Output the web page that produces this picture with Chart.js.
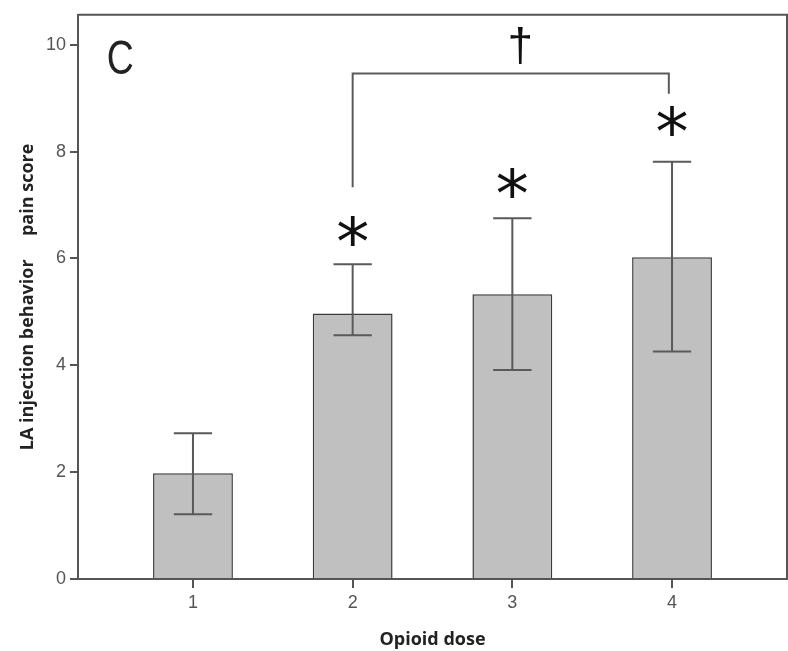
<!DOCTYPE html>
<html><head><meta charset="utf-8">
<script src="https://cdn.jsdelivr.net/npm/chart.js@4"></script>
<style>html,body{margin:0;padding:0;background:#fff}canvas{display:block}</style>
</head><body>
<canvas id="c" width="788" height="651"></canvas>
<script>
// ---- data ----
const doses = [1, 2, 3, 4];
const meanScore = [1.98, 4.97, 5.33, 6.02];
const errUpper = [2.73, 5.89, 6.75, 7.81];
const errLower = [1.21, 4.56, 3.91, 4.26];
const yTickLabels = [0, 2, 4, 6, 8, 10];
const starMarks = ['', '*', '*', '*'];
const starY = [null, 6.43, 7.33, 8.49];
const bracketX = [2, 3.98];
const bracketY = [7.33, 9.46, 9.08];   // left leg bottom, top line, right leg bottom
const daggerPos = [3.05, 9.98];
const panelLabel = 'C';
const panelPos = [0.545, 9.70];

const annot = {
  id: 'annot',
  afterDatasetsDraw(chart) {
    const {ctx, chartArea: a, scales: {x, y}} = chart;
    ctx.save();
    // frame top & right
    ctx.strokeStyle = '#555';
    ctx.lineWidth = 2;
    ctx.beginPath();
    ctx.moveTo(a.left, a.top); ctx.lineTo(a.right, a.top); ctx.lineTo(a.right, a.bottom);
    ctx.stroke();
    // error bars
    ctx.strokeStyle = '#5a5a5a';
    ctx.lineWidth = 2;
    const capHalf = x.getPixelForValue(1.12) - x.getPixelForValue(1);
    doses.forEach((d, i) => {
      const px = x.getPixelForValue(d);
      const yu = y.getPixelForValue(errUpper[i]);
      const yl = y.getPixelForValue(errLower[i]);
      ctx.beginPath();
      ctx.moveTo(px, yu); ctx.lineTo(px, yl);
      ctx.moveTo(px - capHalf, yu); ctx.lineTo(px + capHalf, yu);
      ctx.moveTo(px - capHalf, yl); ctx.lineTo(px + capHalf, yl);
      ctx.stroke();
    });
    // stars
    ctx.fillStyle = '#111';
    ctx.textAlign = 'center';
    ctx.textBaseline = 'middle';
    ctx.font = '66px "DejaVu Sans", sans-serif';
    doses.forEach((d, i) => {
      if (!starMarks[i]) return;
      ctx.fillText(starMarks[i], x.getPixelForValue(d), y.getPixelForValue(starY[i]) + 12);
    });
    // bracket
    ctx.strokeStyle = '#5a5a5a';
    ctx.lineWidth = 2;
    ctx.beginPath();
    ctx.moveTo(x.getPixelForValue(bracketX[0]), y.getPixelForValue(bracketY[0]));
    ctx.lineTo(x.getPixelForValue(bracketX[0]), y.getPixelForValue(bracketY[1]));
    ctx.lineTo(x.getPixelForValue(bracketX[1]), y.getPixelForValue(bracketY[1]));
    ctx.lineTo(x.getPixelForValue(bracketX[1]), y.getPixelForValue(bracketY[2]));
    ctx.stroke();
    // dagger
    ctx.font = '46px "Liberation Sans", sans-serif';
    ctx.fillText('†', x.getPixelForValue(daggerPos[0]), y.getPixelForValue(daggerPos[1]) + 3);
    // panel label (condensed)
    ctx.font = '48px "Liberation Sans", Arial, sans-serif';
    ctx.fillStyle = '#222';
    ctx.translate(x.getPixelForValue(panelPos[0]), y.getPixelForValue(panelPos[1]));
    ctx.scale(0.78, 1);
    ctx.fillText(panelLabel, 0, 0);
    ctx.restore();
  }
};

new Chart(document.getElementById('c'), {
  type: 'bar',
  data: {
    datasets: [{
      data: doses.map((d, i) => ({x: d, y: meanScore[i]})),
      backgroundColor: '#c0c0c0',
      borderColor: '#3a3a3a',
      borderWidth: 1.5,
      barPercentage: 0.5,
      categoryPercentage: 1.0
    }]
  },
  options: {
    responsive: false,
    animation: false,
    layout: {padding: {top: 13, right: 1, left: 0, bottom: 0}},
    plugins: {legend: {display: false}, tooltip: {enabled: false}},
    scales: {
      x: {
        type: 'linear',
        offset: false,
        min: 0.28, max: 4.72,
        afterBuildTicks: s => { s.ticks = doses.map(v => ({value: v})); },
        afterFit: s => { s.height = 72; },
        grid: {offset: false, drawOnChartArea: false, drawTicks: true, tickLength: 9, color: '#555', lineWidth: 2},
        border: {display: true, color: '#555', width: 2},
        ticks: {color: '#555', padding: 4, font: {family: '"Liberation Sans Narrow", "Liberation Sans", sans-serif', size: 18}},
        title: {display: true, text: 'Opioid dose', color: '#222', padding: {top: 7, bottom: 0},
                font: {family: '"Open Sans", sans-serif', size: 18, weight: 'bold'}}
      },
      y: {
        min: 0, max: 10.56,
        afterBuildTicks: s => { s.ticks = yTickLabels.map(v => ({value: v})); },
        afterFit: s => { s.width = 78; },
        grid: {drawOnChartArea: false, drawTicks: true, tickLength: 8, color: '#555', lineWidth: 2},
        border: {display: true, color: '#555', width: 2},
        ticks: {color: '#555', padding: 4, font: {family: '"Liberation Sans Narrow", "Liberation Sans", sans-serif', size: 18}},
        title: {display: true, text: 'LA injection behavior     pain score', color: '#222', padding: {top: 17, bottom: 0},
                font: {family: '"Open Sans", sans-serif', size: 18, weight: 'bold'}}
      }
    }
  },
  plugins: [annot]
});
</script>
</body></html>
